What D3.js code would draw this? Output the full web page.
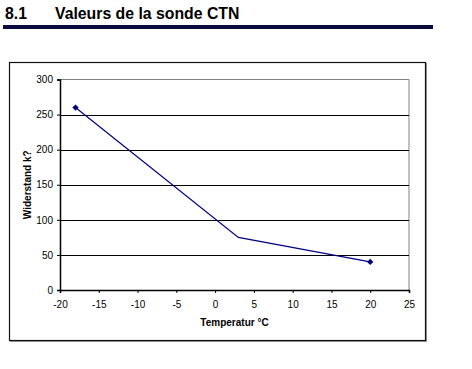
<!DOCTYPE html>
<html><head><meta charset="utf-8">
<script src="https://cdn.jsdelivr.net/npm/d3@7"></script>
<style>body{margin:0;background:#fff}svg{display:block}text{font-family:Arial,"Liberation Sans",sans-serif}</style>
</head><body><svg id="c" width="472" height="369"></svg>
<script>
const temperatures = [-18, 3, 20];
const resistances = [260, 75, 40];
const showMarker = [true, false, true];
const xTicks = [-20, -15, -10, -5, 0, 5, 10, 15, 20, 25];
const yTicks = [0, 50, 100, 150, 200, 250, 300];
const sectionNo = "8.1";
const sectionTitle = "Valeurs de la sonde CTN";
const xTitle = "Temperatur °C";
const yTitle = "Widerstand k?";

const svg = d3.select("#c");
// header
svg.append("text").attr("x",5).attr("y",19).attr("font-size",15.8).attr("font-weight","bold").attr("fill","#000").text(sectionNo);
svg.append("text").attr("x",55).attr("y",19).attr("font-size",15.8).attr("font-weight","bold").attr("fill","#000").text(sectionTitle);
svg.append("rect").attr("x",3).attr("y",25).attr("width",430).attr("height",4).attr("fill","#0a0a3c");

// outer chart box with shadow
svg.append("rect").attr("x",10.5).attr("y",63.5).attr("width",416).attr("height",278).attr("fill","none").attr("stroke","#999").attr("stroke-width",1);
svg.append("rect").attr("x",9.5).attr("y",62.5).attr("width",416).attr("height",278).attr("fill","#fff").attr("stroke","#111").attr("stroke-width",1.2);

const x = d3.scaleLinear().domain([-20,25]).range([60,409]);
const y = d3.scaleLinear().domain([0,300]).range([290,79.5]);

// plot area border (top/right grey)
svg.append("path").attr("d",`M${x(-20)},${y(300)}H${x(25)}V${y(0)}`).attr("fill","none").attr("stroke","#808080").attr("stroke-width",1);

// gridlines
svg.append("g").selectAll("line").data(yTicks.filter(v=>v>0&&v<300)).join("line")
  .attr("x1",x(-20)).attr("x2",x(25)).attr("y1",d=>Math.round(y(d))+0.5).attr("y2",d=>Math.round(y(d))+0.5)
  .attr("stroke","#000").attr("stroke-width",1);

// axes
const xAxis = d3.axisBottom(x).tickValues(xTicks).tickSize(3).tickFormat(d=>String(d));
const gx = svg.append("g").attr("transform",`translate(0,${y(0)})`).call(xAxis);
gx.select(".domain").attr("stroke","#000").attr("stroke-width",1.5);
gx.selectAll(".tick line").attr("stroke","#000");
gx.selectAll("text").attr("font-size",10).attr("fill","#000").attr("dy","1.15em").attr("font-family","Arial, 'Liberation Sans', sans-serif");

const yAxis = d3.axisLeft(y).tickValues(yTicks).tickSize(3).tickFormat(d=>String(d));
const gy = svg.append("g").attr("transform",`translate(${x(-20)},0)`).call(yAxis);
gy.select(".domain").attr("stroke","#000").attr("stroke-width",1.5);
gy.selectAll(".tick line").attr("stroke","#000");
gy.selectAll("text").attr("font-size",10).attr("fill","#000").attr("x",-7).attr("font-family","Arial, 'Liberation Sans', sans-serif");

// line
const pts = temperatures.map((t,i)=>({t, r: resistances[i], m: showMarker[i]}));
svg.append("path").datum(pts).attr("fill","none").attr("stroke","#000080").attr("stroke-width",1.2)
  .attr("d", d3.line().x(d=>x(d.t)).y(d=>y(d.r)));
svg.append("g").selectAll("path").data(pts.filter(d=>d.m)).join("path")
  .attr("transform",d=>`translate(${x(d.t)},${y(d.r)}) rotate(45)`)
  .attr("d", d3.symbol(d3.symbolSquare, 20)()).attr("fill","#000080");

// axis titles
svg.append("text").attr("x",(x(-20)+x(25))/2).attr("y",326).attr("text-anchor","middle").attr("font-size",10).attr("font-weight","bold").attr("fill","#000").text(xTitle);
svg.append("text").attr("transform",`translate(31,${y(150)}) rotate(-90)`).attr("text-anchor","middle").attr("font-size",10).attr("font-weight","bold").attr("fill","#000").text(yTitle);
</script></body></html>
